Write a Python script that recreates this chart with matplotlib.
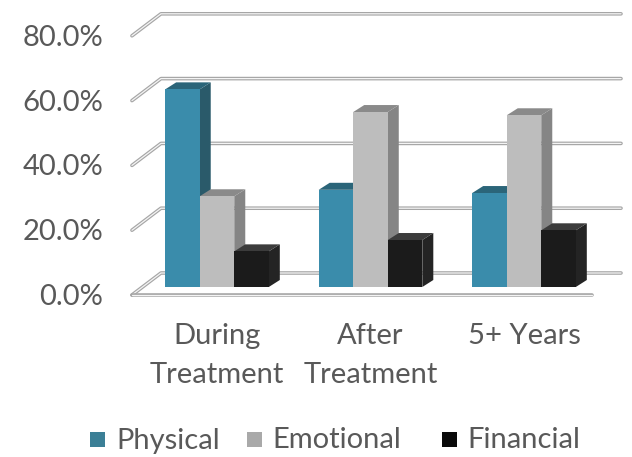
import matplotlib
matplotlib.use("Agg")
import matplotlib.pyplot as plt
from matplotlib.patches import Polygon, Rectangle
import numpy as np

categories = ["During\nTreatment", "After\nTreatment", "5+ Years"]
series = ["Physical", "Emotional", "Financial"]
physical = [61.0, 30.0, 29.0]
emotional = [28.0, 54.0, 53.0]
financial = [11.0, 14.5, 17.5]
tick_values = [0, 20, 40, 60, 80]
tick_labels = ["0.0%", "20.0%", "40.0%", "60.0%", "80.0%"]

front_cols = ["#3a8cab", "#bdbdbd", "#1b1b1b"]
top_cols = ["#2b6579", "#8a8a8a", "#3c3c3c"]
side_cols = ["#2a5a6a", "#858585", "#242424"]
legend_cols = ["#3b7f96", "#a9a9a9", "#0a0a0a"]
text_col = "#595959"
FONT = "Lato"
FS = 21

W, H = 632, 457
fig = plt.figure(figsize=(W / 100, H / 100), dpi=100)
ax = fig.add_axes([140.25 / W, 137.6 / H, 460.5 / W, 307.8 / H])
ax.set_xlim(-0.5, 2.5)
ax.set_ylim(-10, 85)
ax.axis("off")

fwd = ax.transData
inv = ax.transData.inverted()


def sh(x, y, dxp, dyp):
    px, py = fwd.transform((x, y))
    return tuple(inv.transform((px + dxp, py + dyp)))


x_back_l = -0.365
x_back_r = 2.632
x_front_l = -0.554
x_front_r = 2.443
front_dy = -8


def tube(xs, ys, z=1):
    ax.plot(xs, ys, color="#a6a6a6", lw=2.6, solid_capstyle="round", zorder=z, clip_on=False)
    ax.plot(xs, ys, color="#f4f4f4", lw=0.9, solid_capstyle="round", zorder=z + 0.1, clip_on=False)


for v, lab in zip(tick_values, tick_labels):
    bl = sh(x_back_l, v, 0, 14)
    br = sh(x_back_r, v, 0, 14)
    fl = sh(x_front_l, v, 0, front_dy)
    tube([fl[0], bl[0], br[0]], [fl[1], bl[1], br[1]])
    lx = sh(x_front_l, v, -29, front_dy - 2)
    ax.text(lx[0], lx[1], lab, ha="right", va="center",
            fontsize=FS, color=text_col, family=FONT, clip_on=False)

# floor front edge
fl = sh(x_front_l, 0, 0, front_dy)
fr = sh(x_front_r, 0, 0, front_dy)
tube([fl[0], fr[0]], [fl[1], fr[1]], z=5)

# bars
w = 0.225
DX, DY = 11, 7
data = [physical, emotional, financial]
x = np.arange(len(categories))
for gi in range(len(categories)):
    for si in range(3):
        v = data[si][gi]
        x0 = x[gi] + (si - 1) * w - w / 2
        x1 = x0 + w
        z = 3 + gi * 0.01 + si * 0.001
        ax.bar(x0, v, width=w, align="edge", color=front_cols[si], zorder=z + 0.0003, lw=0)
        top = [(x0, v), (x1, v), sh(x1, v, DX, DY), sh(x0, v, DX, DY)]
        ax.add_patch(Polygon(top, closed=True, facecolor=top_cols[si], lw=0, zorder=z + 0.0002))
        side = [(x1, 0), (x1, v), sh(x1, v, DX, DY), sh(x1, 0, DX, DY)]
        ax.add_patch(Polygon(side, closed=True, facecolor=side_cols[si], lw=0, zorder=z + 0.0001))

# category labels
for gi, c in enumerate(categories):
    p = sh(x[gi], 0, 0, -36)
    ax.text(p[0], p[1], c, ha="center", va="top", fontsize=FS, color=text_col,
            family=FONT, linespacing=1.62, clip_on=False)

# legend
leg_sq_x = [90, 247, 442]
leg_tx_x = [116, 272, 467]
for i, s in enumerate(series):
    fig.patches.append(Rectangle((leg_sq_x[i] / W, (H - 447) / H), 15 / W, 15 / H,
                                 transform=fig.transFigure, facecolor=legend_cols[i], lw=0))
    fig.text(leg_tx_x[i] / W, (H - 440.5) / H, s, ha="left", va="center", fontsize=FS,
             color=text_col, family=FONT)

fig.savefig("out.png", dpi=100)
